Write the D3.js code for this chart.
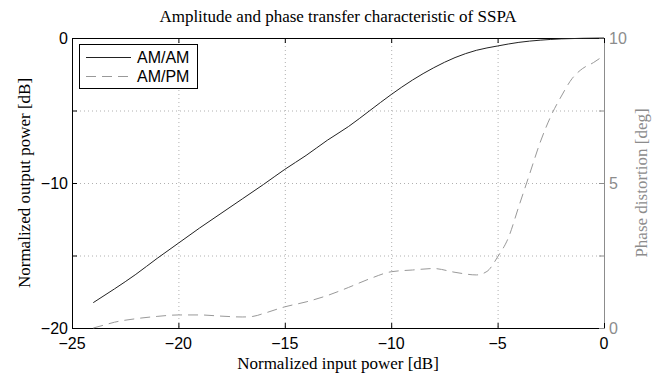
<!DOCTYPE html>
<html><head><meta charset="utf-8">
<script src="https://cdn.jsdelivr.net/npm/d3@7"></script>
<style>body{margin:0;background:#fff}</style>
</head><body>
<svg id="c" width="652" height="375"></svg>
<script>
const title = "Amplitude and phase transfer characteristic of SSPA";
const xLabel = "Normalized input power [dB]";
const yLabel = "Normalized output power [dB]";
const y2Label = "Phase distortion [deg]";
const xTicks = [-25, -20, -15, -10, -5, 0];
const yTicks = [-20, -15, -10, -5, 0];
const yTickLabels = [-20, -10, 0];
const y2Ticks = [0, 2.5, 5, 7.5, 10];
const y2TickLabels = [0, 5, 10];
const amamIn = [-24,-23,-22,-21,-20,-19,-18,-17,-16,-15,-14,-13,-12,-11,-10,-9,-8,-7,-6,-5,-4,-3,-2,-1,0];
const amamOut = [-18.25,-17.3,-16.3,-15.2,-14.15,-13.1,-12.1,-11.1,-10.1,-9.06,-8.1,-7.05,-6.1,-5.0,-3.9,-2.9,-2.05,-1.35,-0.85,-0.55,-0.3,-0.15,-0.06,-0.02,0];
const ampmIn = [-24,-23.5,-23,-22,-21,-20,-19,-18,-17,-16.5,-16,-15,-14,-13,-12,-11,-10,-9,-8,-7,-6,-5.5,-5,-4.5,-4,-3.5,-3,-2.5,-2,-1.5,-1,-0.5,0];
const ampmDeg = [0,0.1,0.2,0.32,0.4,0.45,0.45,0.41,0.38,0.4,0.5,0.73,0.9,1.12,1.4,1.7,1.94,2.0,2.05,1.92,1.83,1.95,2.45,3.1,4.2,5.3,6.4,7.3,8.0,8.6,8.95,9.15,9.4];
const legendNames = ["AM/AM", "AM/PM"];

const svg = d3.select("#c");
const L = 72, R = 604, T = 38, B = 328;
const x = d3.scaleLinear().domain([-25, 0]).range([L, R]);
const y = d3.scaleLinear().domain([-20, 0]).range([B, T]);
const y2 = d3.scaleLinear().domain([0, 10]).range([B, T]);
const grey = "#8c8c8c";
const sans = "'Liberation Sans', Arial, sans-serif";
const serif = "'Liberation Serif', 'Times New Roman', serif";

// grid
const grid = svg.append("g").attr("stroke", "#b0b0b0").attr("stroke-width", 1).attr("stroke-dasharray", "1,3");
xTicks.slice(1, -1).forEach(v => grid.append("line").attr("x1", x(v)+0.5).attr("x2", x(v)+0.5).attr("y1", T).attr("y2", B));
yTicks.slice(1, -1).forEach(v => grid.append("line").attr("y1", y(v)+0.5).attr("y2", y(v)+0.5).attr("x1", L).attr("x2", R));

// box lines
svg.append("line").attr("x1", L).attr("x2", R).attr("y1", B+0.5).attr("y2", B+0.5).attr("stroke", "#000");
svg.append("line").attr("x1", L).attr("x2", R).attr("y1", T+0.5).attr("y2", T+0.5).attr("stroke", "#000");
svg.append("line").attr("x1", L+0.5).attr("x2", L+0.5).attr("y1", T).attr("y2", B+1).attr("stroke", "#000");
svg.append("line").attr("x1", R+0.5).attr("x2", R+0.5).attr("y1", T).attr("y2", B+1).attr("stroke", grey);

// x ticks
xTicks.forEach(v => {
  svg.append("line").attr("x1", x(v)+0.5).attr("x2", x(v)+0.5).attr("y1", B).attr("y2", B-5).attr("stroke", "#000");
  svg.append("line").attr("x1", x(v)+0.5).attr("x2", x(v)+0.5).attr("y1", T).attr("y2", T+5).attr("stroke", "#000");
  svg.append("text").attr("x", x(v)).attr("y", 349).attr("text-anchor", "middle")
    .attr("font-family", sans).attr("font-size", 16).text(String(v).replace("-", "\u2212"));
});
// left y ticks
yTicks.forEach(v => {
  svg.append("line").attr("x1", L).attr("x2", L+5).attr("y1", y(v)+0.5).attr("y2", y(v)+0.5).attr("stroke", "#000");
});
yTickLabels.forEach(v => {
  svg.append("text").attr("x", L-4).attr("y", y(v)+6).attr("text-anchor", "end")
    .attr("font-family", sans).attr("font-size", 16).text(String(v).replace("-", "\u2212"));
});
// right y ticks
y2Ticks.forEach(v => {
  svg.append("line").attr("x1", R-5).attr("x2", R).attr("y1", y2(v)+0.5).attr("y2", y2(v)+0.5).attr("stroke", grey);
});
y2TickLabels.forEach(v => {
  svg.append("text").attr("x", R+5).attr("y", y2(v)+6).attr("text-anchor", "start").attr("fill", grey)
    .attr("font-family", sans).attr("font-size", 16).text(v);
});

// lines
const lineAM = d3.line().x(d => x(d[0])).y(d => y(d[1])).curve(d3.curveMonotoneX);
const linePM = d3.line().x(d => x(d[0])).y(d => y2(d[1])).curve(d3.curveMonotoneX);
svg.append("path").datum(ampmIn.map((v, i) => [v, ampmDeg[i]])).attr("d", linePM)
  .attr("fill", "none").attr("stroke", "#999").attr("stroke-width", 1).attr("stroke-dasharray", "10,6");
svg.append("path").datum(amamIn.map((v, i) => [v, amamOut[i]])).attr("d", lineAM)
  .attr("fill", "none").attr("stroke", "#222").attr("stroke-width", 1);

// legend
const lg = svg.append("g");
lg.append("rect").attr("x", 79.5).attr("y", 44.5).attr("width", 118).attr("height", 44).attr("fill", "#fff").attr("stroke", "#000");
lg.append("line").attr("x1", 86).attr("x2", 131).attr("y1", 57.5).attr("y2", 57.5).attr("stroke", "#222");
lg.append("line").attr("x1", 86).attr("x2", 131).attr("y1", 76.5).attr("y2", 76.5).attr("stroke", "#999").attr("stroke-dasharray", "10,6");
legendNames.forEach((n, i) => {
  lg.append("text").attr("x", 137).attr("y", 63 + i*19).attr("font-family", sans).attr("font-size", 16).text(n);
});

// titles
svg.append("text").attr("x", 338).attr("y", 22).attr("text-anchor", "middle").attr("font-family", serif).attr("font-size", 17).text(title);
svg.append("text").attr("x", 338).attr("y", 369).attr("text-anchor", "middle").attr("font-family", serif).attr("font-size", 17).text(xLabel);
svg.append("text").attr("transform", `translate(30,${(T+B)/2}) rotate(-90)`).attr("text-anchor", "middle").attr("font-family", serif).attr("font-size", 17).text(yLabel);
svg.append("text").attr("transform", `translate(647,${(T+B)/2}) rotate(-90)`).attr("text-anchor", "middle").attr("fill", grey).attr("font-family", serif).attr("font-size", 17).text(y2Label);
</script>
</body></html>
